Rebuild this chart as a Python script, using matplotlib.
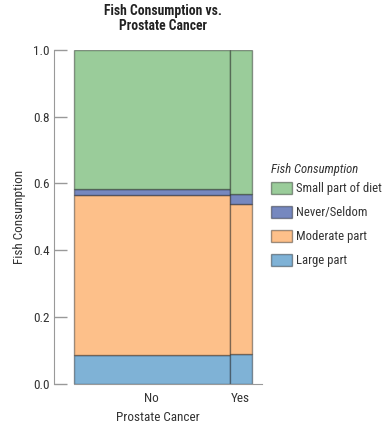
import matplotlib
matplotlib.use("Agg")
import matplotlib.pyplot as plt
from matplotlib.patches import Patch
from matplotlib import font_manager
import numpy as np

# Data
cancer = ["No", "Yes"]
col_share = [0.876, 0.124]           # column widths as drawn
fish = ["Large part", "Moderate part", "Never/Seldom", "Small part of diet"]  # bottom -> top
counts_no = [507, 2769, 110, 2420]
counts_yes = [42, 209, 14, 201]
colors = ["#7fb2d6", "#fdc08a", "#7688bf", "#9acc9a"]
y_ticks = [0.0, 0.2, 0.4, 0.6, 0.8, 1.0]

# pick a condensed font if one exists
names = {f.name for f in font_manager.fontManager.ttflist}
condensed = None
for cand in ["Liberation Sans Narrow", "Roboto Condensed", "Open Sans Condensed",
             "DejaVu Sans Condensed", "Noto Sans Condensed"]:
    if cand in names:
        condensed = cand
        break
stretch = "normal"
if condensed is None:
    for f in font_manager.fontManager.ttflist:
        if f.name == "DejaVu Sans" and str(f.stretch) in ("condensed", "semi-condensed", "75", "87"):
            condensed = "DejaVu Sans"
            stretch = "condensed"
            break

if condensed:
    plt.rcParams["font.family"] = [condensed, "DejaVu Sans"]
    plt.rcParams["font.stretch"] = stretch
    fs = 9.5
else:
    plt.rcParams["font.family"] = ["Liberation Sans", "DejaVu Sans"]
    fs = 8.2

W, H = 383, 433
fig = plt.figure(figsize=(W / 100, H / 100), dpi=100)
ax = fig.add_axes([54 / W, (H - 384) / H, (262 - 54) / W, (384 - 49.7) / H])

edge = (0, 0, 0, 0.38)
counts = [counts_no, counts_yes]
left = 0.0
centers = []
for j, c in enumerate(cancer):
    vals = np.array(counts[j], dtype=float)
    props = vals / vals.sum()
    bottoms = np.concatenate([[0], np.cumsum(props)[:-1]])
    w = col_share[j]
    for i in range(len(fish)):
        ax.bar(left, props[i], width=w, bottom=bottoms[i], align="edge",
               color=colors[i], edgecolor=edge, linewidth=1.0)
    centers.append(left + w / 2)
    left += w

ax.set_xlim(-20 / 177.7, 1 + 10.3 / 177.7)
ax.set_ylim(0, 1)
ax.set_xticks(centers)
ax.set_xticklabels(cancer)
ax.set_yticks(y_ticks)
ax.set_yticklabels([f"{v:.1f}" for v in y_ticks])
ax.tick_params(axis="y", direction="in", length=9, width=1, color="#999999",
               labelsize=fs, labelcolor="#333333", pad=3)
ax.tick_params(axis="x", length=0, labelsize=fs, labelcolor="#333333", pad=6)
for s in ["top", "right"]:
    ax.spines[s].set_visible(False)
ax.spines["left"].set_color("#999999")
ax.spines["bottom"].set_color("#999999")
ax.spines["bottom"].set_bounds(0, 1 + 10.3 / 177.7)

ax.set_xlabel("Prostate Cancer", fontsize=fs, color="#333333", labelpad=4)
ax.set_ylabel("Fish Consumption", fontsize=fs, color="#333333", labelpad=5)

fig.text(163 / W, 1 - 4 / H, "Fish Consumption vs.\nProstate Cancer", ha="center", va="top",
         fontsize=fs + 0.3, fontweight="bold", color="#222222", linespacing=1.1)

lfs = fs - 0.4
fig.text(271 / W, 1 - 170 / H, "Fish Consumption", ha="left", va="center",
         fontsize=lfs, style="italic", color="#333333")
handles = [Patch(facecolor=colors[i], edgecolor=edge, label=fish[i]) for i in [3, 2, 1, 0]]
leg = fig.legend(handles=handles, loc="upper left", bbox_to_anchor=(271 / W, 1 - 182 / H),
                 frameon=False, fontsize=lfs,
                 handlelength=1.65, handleheight=1.1, handletextpad=0.35,
                 labelspacing=0.84, borderaxespad=0, borderpad=0)
for t in leg.get_texts():
    t.set_color("#333333")

fig.savefig("out.png", dpi=100)
